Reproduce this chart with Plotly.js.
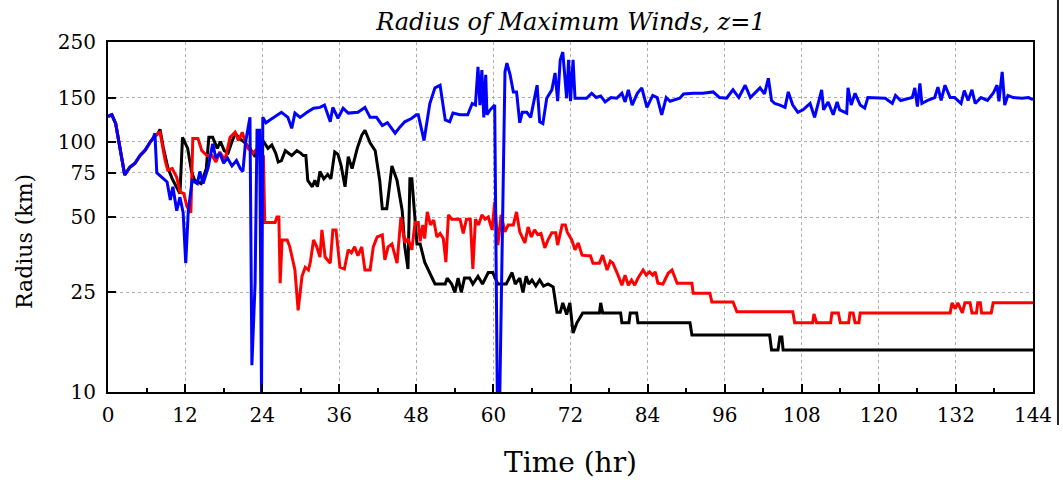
<!DOCTYPE html>
<html>
<head>
<meta charset="utf-8">
<script src="https://cdn.plot.ly/plotly-3.0.1.min.js"></script>
<style>html,body{margin:0;padding:0;background:#fff;}#chart{width:1063px;height:480px;}</style>
</head>
<body>
<div id="chart"></div>
<script>
// ---- Data (time in hours, radius in km) ----
const blackTime = [0,0.6,1.2,1.8,2.6,3.4,4.2,5,5.8,6.5,7,7.8,8.1,8.6,9.3,10,10.7,11.2,11.6,12.4,13,13.5,14.5,15.3,15.7,16.3,17,17.5,18.1,18.7,19.3,19.8,20.5,21.3,22.1,22.9,23.4,24.1,24.9,25.5,26.1,26.5,27,27.6,28.6,29.4,30,30.4,30.8,31.1,31.8,32.2,32.6,33,33.6,34.2,34.7,35.3,35.8,36.3,36.9,37.4,38,38.8,39.5,40,40.8,41.6,42.3,42.7,43.4,44.2,45,45.8,46.2,46.7,47,47.3,48.1,48.6,49.3,50.1,50.9,51.7,52.5,52.8,53.5,54,54.5,55,55.5,56.3,56.8,57.6,58.3,59.2,59.9,60.7,62,62.9,63.4,64.1,64.6,65.1,65.5,66,66.6,67.2,67.8,68.5,69.3,69.9,70.4,70.8,71.4,71.9,72.4,73,73.9,76.5,76.7,77,79.8,80,81.1,81.3,82.3,82.5,90.6,90.9,103,103.3,104.3,104.6,104.9,105.1,144];
const blackRadius = [126,128,118,95,73.6,79,82,88,92.5,99,103,108,112,95,79,71,65,62,104,94,76,70,68,78,104,104,94,100,92,90,100,108,103,99,94,87,95,101,94,97,90,83,84,92,88,92,90,88,88,70,66,70,66,76,71,74,71,91,89,80,66,87,78,94,106,111,99,92,70,54,54,80,70,53,38,31,71,71,39,39,33,30,27,27,27,28.5,27,25,28.5,25,28.5,28.5,27,29,27,30,30,27,27,30,27,28.5,25,29,27,28,26.5,28,26.5,27,26.3,20.8,20.8,22.7,20.4,22.7,17.2,18.9,20.7,20.7,22.7,20.7,20.7,18.9,18.9,20.7,20.7,18.9,18.9,16.9,16.9,14.7,14.7,16.6,16.6,14.7,14.7];

const redTime = [0,0.6,1.2,1.8,2.6,3.4,4.2,5,5.8,6.5,7,7.8,8.1,8.9,9.3,10,10.7,11.2,11.8,12.3,12.9,13.2,14,14.6,15.4,16.2,16.8,17.4,18.2,19,19.8,20.3,20.9,21.3,21.8,22.6,23.1,23.7,24.2,24.4,25.2,26,26.3,26.6,26.8,27.1,27.9,28.3,29.1,29.6,30.2,30.7,31.2,31.5,32,32.5,33,33.3,33.8,34.6,35,35.5,36.1,36.8,37.4,37.9,38.4,38.9,39.5,40,40.8,41.3,41.9,42.7,43.1,43.6,44.2,45,45.6,46.2,46.7,47.3,47.8,48.3,48.6,49,49.3,49.7,50.2,50.7,51.2,51.7,52.2,52.6,53,53.5,54.2,54.8,55.3,55.8,56.4,56.8,57.2,57.7,58.2,58.7,59.2,59.8,60.2,60.7,61.2,61.8,62.3,63.1,63.6,64.1,64.9,65.4,65.9,66.4,66.9,67.4,68,68.5,69.1,69.7,70,70.7,71.2,71.5,72.2,72.7,73.2,73.8,74.6,75.1,75.5,76.5,77,77.7,78.2,78.6,79.4,80,80.5,81,81.5,82,82.5,83.3,83.8,84.3,84.8,85.2,85.6,86.4,87.2,87.8,88.6,90.9,91.1,93.7,94,97.3,97.9,106.6,106.9,109.7,109.9,110.3,112.5,112.7,113.7,114,115.3,115.5,116,116.3,116.9,117.1,131.1,131.4,131.9,132.3,133,133.4,134.2,134.5,135.2,135.4,135.8,136,137.5,137.8,144];
const redRadius = [126,128,118,95,73.6,79,82,88,92.5,99,103,108,109,84,77,78,72,63,62,55,52,103,103,92,88,88,83,91,84,104,109,101,109,101,94,90,93,87,87,47.5,47.5,47.5,50,50,27.2,40.5,40.5,38,30.7,21.2,29,31.5,30.7,33,40.5,38,34.6,44.4,34.6,32.7,44.4,44.4,31.5,31,37,36,38,35,38,30.7,30.7,38,41.6,42.4,33.7,38,39,32.7,50,39.4,41,37,47.5,47.5,40,46.5,41,52.4,46.5,48.6,41.6,43,41,33,51,49,49,49,43,49,49,31,49,46.5,51,49,50,44.4,57.5,38.6,51,43.6,46.5,46.5,52.4,43.6,39.4,45.6,41.6,44.4,42.5,43,37.6,40.5,43.3,43.3,38.6,46.5,46.5,43.5,40.5,37,39.4,35.2,35,35,32.7,32.7,35.2,30.7,33.3,32.7,29.3,26.7,29.3,26.7,28,26.7,28.5,30.7,29.3,30.2,29.3,30.2,27.2,27,29.8,30.7,27.2,27.2,24.8,24.8,22.9,22.9,20.9,20.9,18.9,18.9,20.5,18.9,18.9,20.7,20.7,18.9,18.9,20.7,20.7,18.9,18.9,20.7,20.7,22.7,21.5,22.7,20.7,22.7,22.7,20.7,20.7,22.7,22.7,20.7,20.7,22.7,22.7];

const blueTime = [0,0.6,1.2,1.8,2.6,3.4,4.2,5,5.8,6.5,7,7.3,7.6,8.4,9.2,9.7,10.1,10.7,11.2,11.7,12.1,12.5,13.1,13.9,14.3,14.8,15.6,16.3,16.8,17.4,18,18.6,19.3,20,20.6,21,21.4,22.1,22.4,22.9,23.2,23.6,23.9,24.1,24.6,25.2,26.3,27,28,28.6,29.1,29.9,31,32,33,33.7,34.6,35,35.8,36.6,37.4,38.9,40,40.8,41.8,42.7,43.5,44.7,45.4,46.2,47.3,48,48.3,49.2,50.1,50.9,51.7,52.5,53.2,53.7,54.8,56,56.7,57.2,57.6,57.9,58.2,58.5,58.8,59,59.5,60.2,60.6,61,61.8,62.1,62.6,63.1,63.6,64.1,64.5,65.2,65.8,66.8,67.2,67.7,68.3,69.1,69.6,70,70.4,70.8,71.4,71.7,72,72.4,72.7,73.5,74.5,75.3,76,76.7,77.4,78.3,79.2,80,80.5,81,81.6,82.4,83.1,83.9,84.8,85.5,86.2,86.9,87.5,89,89.6,91.1,92.6,94.2,95.2,96.3,97.3,98.2,99.2,100,101.5,102.2,102.8,103.3,103.8,104.6,105.4,105.9,106.6,107.4,108.2,109.3,110,111.1,111.4,112.1,112.9,113.5,113.9,115,115.2,115.7,116.3,117.1,117.8,118.3,119.3,121,122.1,122.6,123.4,125.2,125.6,126,126.4,126.7,127.6,128.7,129.2,129.7,130.3,131.1,131.8,132.8,133.3,133.9,134.5,135,135.9,136.9,137.8,138.4,138.7,139.2,139.6,140.1,140.9,142.3,143.3,144];
const blueRadius = [126,128,118,95,73.6,79,82,88,92.5,99,103,108,75,72,69,58.5,66,53,60,52,32.7,53,70,68,76,68,79,98,86,90,82,86,80,84,78,76,99,125,12.8,27.2,111,111,10,125,119,122,128,131,125,113,130,125,131,136,137,140,120,137,124,136,130,131,137,125,125,116,119,108,114,120,124,128,128,101,142,164,168,122,120,130,128,128,142,140,199,140,193,125,185,128,134,140,10,10,190,206,185,158,158,119,131,131,125,168,120,118,149,161,188,145,212,228,149,212,145,212,149,149,149,156,150,152,144,150,149,156,144,161,140,156,164,137,153,150,128,150,145,149,155,156,156,158,150,149,161,150,168,150,164,155,179,146,142,140,137,158,140,131,134,142,125,161,134,144,128,144,134,130,164,140,156,140,136,150,150,149,142,153,146,150,164,138,171,142,146,150,165,146,168,150,150,142,160,146,161,142,150,146,156,168,145,190,140,153,150,149,150,147];

const xTickVals = [0,12,24,36,48,60,72,84,96,108,120,132,144];
const yTickVals = [10,25,50,75,100,150,250];
const yTickText = ['10','25','50','75','100','150','250'];

const serif = 'DejaVu Serif, Liberation Serif, serif';

const lineStyle = (c) => ({color: c, width: 3});
const traces = [
  {x: blackTime, y: blackRadius, mode: 'lines', line: lineStyle('#000000'), name: 'black', hoverinfo: 'x+y'},
  {x: redTime, y: redRadius, mode: 'lines', line: lineStyle('#ff0000'), name: 'red', hoverinfo: 'x+y'},
  {x: blueTime, y: blueRadius, mode: 'lines', line: lineStyle('#0000ff'), name: 'blue', hoverinfo: 'x+y'}
];

const layout = {
  width: 1063, height: 480,
  margin: {l: 108, r: 30, t: 42, b: 88},
  paper_bgcolor: '#ffffff', plot_bgcolor: '#ffffff',
  showlegend: false,
  font: {family: serif, color: '#000', size: 20},
  title: {text: '<i>Radius of Maximum Winds, z=1</i>', font: {family: serif, size: 24, color: '#000'}, x: 0.537, xanchor: 'center', y: 0.955, yanchor: 'middle'},
  xaxis: {
    range: [0, 144], tickvals: xTickVals, ticks: 'inside', ticklen: 8, tickwidth: 2, tickcolor: '#000',
    showline: true, linecolor: '#000', linewidth: 2, mirror: true,
    showgrid: true, gridcolor: '#b0b0b0', griddash: 'dot', gridwidth: 1, zeroline: false,
    minor: {dtick: 6, tick0: 0, ticks: 'inside', ticklen: 4, tickwidth: 2, tickcolor: '#000', showgrid: false},
    tickfont: {family: serif, size: 20, color: '#000'}, ticklabelstandoff: 4,
    title: {text: 'Time (hr)', font: {family: serif, size: 28, color: '#000'}, standoff: 26}
  },
  yaxis: {
    type: 'log', range: [1, Math.log10(250)], tickvals: yTickVals, ticktext: yTickText,
    ticks: 'inside', ticklen: 8, tickwidth: 2, tickcolor: '#000',
    showline: true, linecolor: '#000', linewidth: 2, mirror: true,
    showgrid: true, gridcolor: '#b0b0b0', griddash: 'dot', gridwidth: 1, zeroline: false,
    tickfont: {family: serif, size: 20, color: '#000'}, ticklabelstandoff: 6
  },
  annotations: [
    {text: 'Radius (km)', xref: 'paper', yref: 'paper', x: -0.0897, y: 0.4286, xanchor: 'center', yanchor: 'middle', textangle: -90, showarrow: false, font: {family: serif, size: 22, color: '#000'}}
  ],
  shapes: [
    {type: 'line', xref: 'paper', yref: 'paper', x0: 1.027, x1: 1.027, y0: 1.12, y1: -0.094, line: {color: '#222', width: 2}}
  ]
};

Plotly.newPlot('chart', traces, layout, {displayModeBar: false, staticPlot: true});
</script>
</body>
</html>
